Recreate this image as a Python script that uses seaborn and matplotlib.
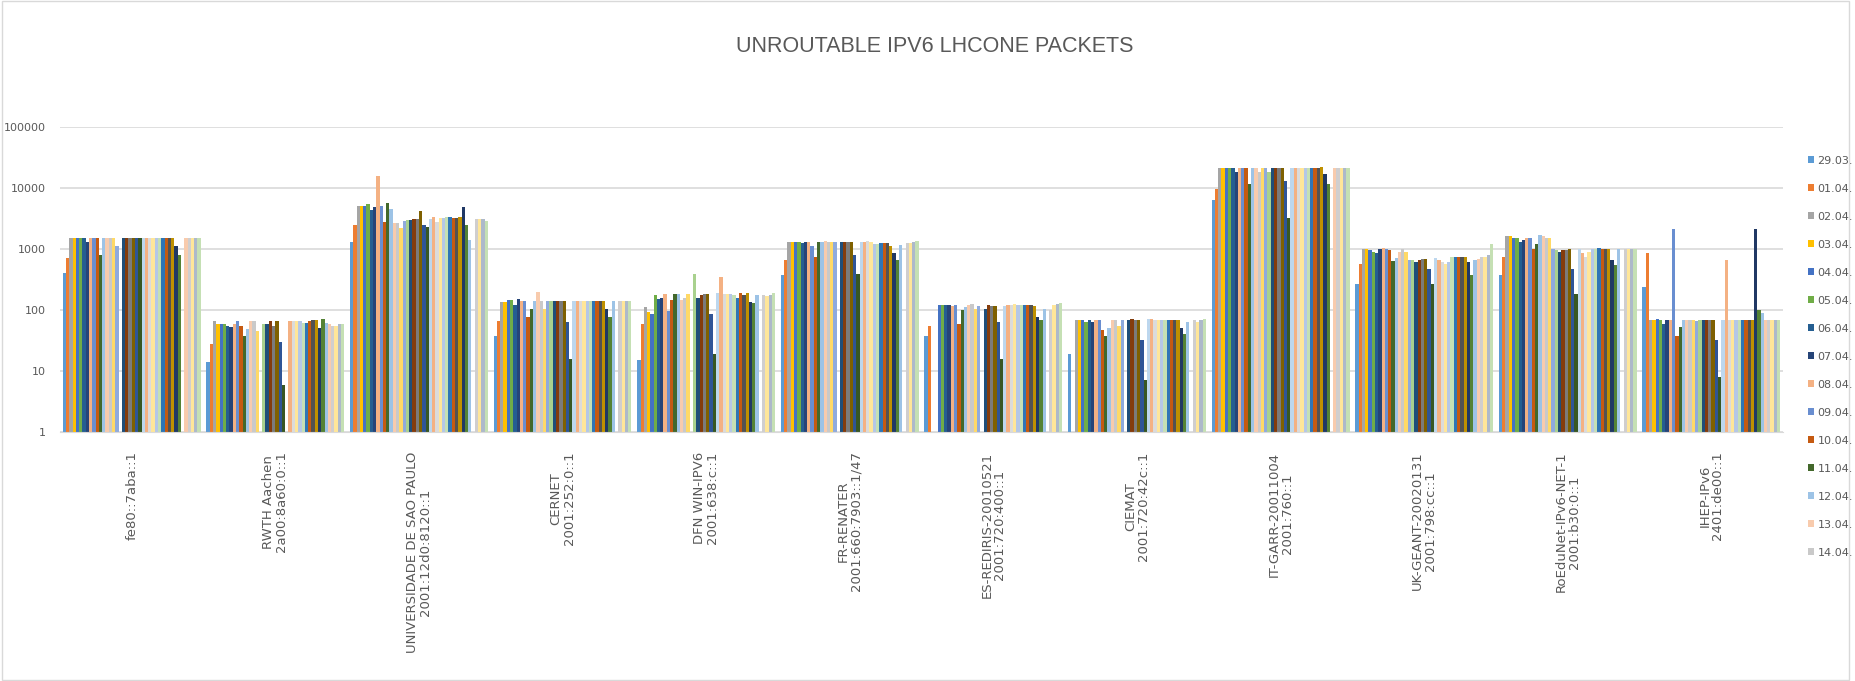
import numpy as np
import pandas as pd
import matplotlib
matplotlib.use("Agg")
import matplotlib.pyplot as plt
from matplotlib.patches import Patch, Rectangle
import seaborn as sns

nan = np.nan

sites = [
    "fe80::7aba::1",
    "RWTH Aachen\n2a00:8a60:0::1",
    "UNIVERSIDADE DE SAO PAULO\n2001:12d0:8120::1",
    "CERNET\n2001:252:0::1",
    "DFN WIN-IPV6\n2001:638:c::1",
    "FR-RENATER\n2001:660:7903::1/47",
    "ES-REDIRIS-20010521\n2001:720:400::1",
    "CIEMAT\n2001:720:42c::1",
    "IT-GARR-20011004\n2001:760::1",
    "UK-GEANT-20020131\n2001:798:cc::1",
    "RoEduNet-IPv6-NET-1\n2001:b30:0::1",
    "IHEP-IPv6\n2401:de00::1",
]

dates = [
    "29.03.", "01.04.", "02.04.", "03.04.", "04.04.", "05.04.", "06.04.",
    "07.04.", "08.04.", "09.04.", "10.04.", "11.04.", "12.04.", "13.04.",
    "14.04.", "15.04.", "16.04.", "17.04.", "18.04.", "19.04.", "20.04.",
    "21.04.", "22.04.", "23.04.", "24.04.", "25.04.", "26.04.", "27.04.",
    "28.04.", "29.04.", "30.04.", "01.05.", "02.05.", "03.05.", "04.05.",
    "05.05.", "06.05.", "07.05.", "08.05.", "09.05.", "10.05.", "11.05.",
]

# packets per site, one value per date
fe80 = [400, 700, 1500, 1500, 1500, 1500, 1500, 1300, 1500, 1500,
        1500, 800, 1500, 1500, 1500, 1500, 1100, nan, 1500, 1500,
        1500, 1500, 1500, 1500, 1500, 1500, 1500, 1500, 1500, 1500,
        1500, 1500, 1500, 1500, 1100, 800, nan, 1500, 1500, 1500,
        1500, 1500]
rwth = [14, 28, 65, 60, 60, 58, 55, 52, 60, 65,
        55, 38, 48, 65, 65, 45, nan, 60, 60, 65,
        55, 65, 30, 6, nan, 65, 65, 65, 65, 62,
        62, 65, 68, 68, 50, 70, 62, 60, 55, 55,
        58, 60]
usp = [1300, 2500, 5000, 5000, 5000, 5500, 4300, 4800, 16000, 5000,
       2800, 5700, 4600, 2700, 2700, 2200, 2900, 3000, 3000, 3100,
       3100, 4200, 2500, 2300, 3100, 3300, 2800, 3200, 3200, 3300,
       3300, 3200, 3200, 3300, 4800, 2500, 1400, nan, 3100, 3100,
       3100, 2900]
cernet = [37, 65, 135, 135, 145, 145, 120, 150, 140, 140,
          77, 105, 140, 200, 140, 105, 140, 140, 140, 140,
          140, 140, 63, 16, 140, 140, 140, 140, 140, 140,
          140, 140, 140, 140, 105, 77, 140, nan, 140, 140,
          140, 140]
dfn = [15, 60, 110, 93, 87, 175, 150, 160, 180, 98,
       145, 185, 185, 145, 160, 185, nan, 390, 160, 175,
       185, 185, 87, 19, 190, 350, 185, 185, 185, 175,
       160, 190, 175, 190, 135, 128, 175, nan, 175, 170,
       175, 190]
renater = [370, 650, 1300, 1300, 1300, 1300, 1270, 1300, 1300, 1100,
           750, 1300, 1300, 1350, 1300, 1300, 1300, nan, 1300, 1300,
           1300, 1300, 800, 390, 1300, 1300, 1350, 1300, 1200, 1200,
           1250, 1250, 1250, 1100, 850, 650, 1150, nan, 1250, 1250,
           1300, 1350]
rediris = [37, 55, nan, nan, 120, 120, 120, 120, 115, 120,
           60, 100, 110, 120, 125, 105, 115, nan, 105, 120,
           115, 115, 63, 16, 115, 120, 120, 125, 120, 120,
           120, 120, 120, 115, 77, 68, 105, nan, 100, 120,
           125, 130]
ciemat = [19, nan, 68, 68, 68, 63, 68, 63, 68, 68,
          47, 37, 50, 68, 68, 55, 68, nan, 68, 72,
          68, 68, 32, 7, 72, 70, 68, 68, 68, 68,
          68, 68, 68, 68, 50, 41, 63, nan, 68, 63,
          68, 72]
garr = [6300, 9800, 21000, 21000, 21000, 21000, 21000, 18000, 21000, 21000,
        21000, 11500, 21000, 21000, 18000, 21000, 21000, 18000, 21000, 21000,
        21000, 21000, 13000, 3200, 21000, 21000, 21000, 21000, 21000, 21000,
        21000, 21000, 21000, 22000, 17000, 11500, nan, 21000, 21000, 21000,
        21000, 21000]
geant = [270, 575, 1000, 1000, 950, 900, 850, 1000, 1050, 1000,
         950, 630, 720, 900, 1000, 900, 650, 650, 610, 650,
         680, 680, 470, 270, 700, 650, 610, 570, 610, 740,
         740, 740, 740, 740, 610, 380, 650, 680, 740, 740,
         800, 1200]
roedunet = [370, 740, 1630, 1630, 1500, 1500, 1300, 1400, 1500, 1500,
            1000, 1200, 1700, 1630, 1500, 1500, 1000, 950, 900, 950,
            950, 1000, 470, 185, 1000, 850, 750, 900, 1000, 1000,
            1050, 1000, 1000, 1000, 650, 540, 1000, nan, 1000, 1000,
            1000, 1000]
ihep = [240, 850, 68, 68, 72, 68, 60, 68, 68, 2100,
        38, 53, 68, 68, 68, 68, 65, 68, 68, 68,
        68, 68, 32, 8, 68, 650, 68, 68, 68, 68,
        68, 68, 68, 68, 2100, 100, 88, 68, 68, 68,
        68, 68]

colors = [
    '#5B9BD5', '#ED7D31', '#A5A5A5', '#FFC000', '#4472C4', '#70AD47',
    '#255E91', '#264478', '#F4B183', '#698ED0', '#C55A11', '#43682B',
    '#9DC3E6', '#F8CBAD', '#C9C9C9', '#FFD966', '#8FAADC', '#A9D18E',
    '#1F4E79', '#843C0C', '#7B7B7B', '#7F6000', '#2F5597', '#385723',
    '#BDD7EE', '#F4B183', '#DBDBDB', '#FFE699', '#B4C7E7', '#C5E0B4',
    '#2E75B6', '#C55A11', '#525252', '#BF9000', '#203864', '#548235',
    '#9DC3E6', '#F8CBAD', '#D0CECE', '#FFE699', '#ADB9CA', '#C5E0B4',
]

series = [fe80, rwth, usp, cernet, dfn, renater, rediris, ciemat,
          garr, geant, roedunet, ihep]

rows = []
for site, vals in zip(sites, series):
    for d, v in zip(dates, vals):
        rows.append((site, d, v))
df = pd.DataFrame(rows, columns=["site", "date", "packets"]).dropna()

sns.set_style("white")
plt.rcParams['font.family'] = ['DejaVu Sans']
grey = '#595959'

fig = plt.figure(figsize=(18.55, 6.81), dpi=100)
ax = fig.add_axes([0.0323, 0.3656, 0.929, 0.4479])

sns.barplot(data=df, x="site", y="packets", hue="date", order=sites,
            hue_order=dates, palette=colors, width=0.96, errorbar=None,
            saturation=1, linewidth=0, legend=False, ax=ax)

ax.set_yscale('log')
ax.set_ylim(1, 100000)
ax.set_xlim(-0.5, len(sites) - 0.5)
yt = [1, 10, 100, 1000, 10000, 100000]
ax.set_yticks(yt)
ax.set_yticklabels([str(t) for t in yt])
ax.yaxis.set_minor_locator(matplotlib.ticker.NullLocator())
ax.grid(axis='y', color='#D9D9D9', linewidth=1.2)
ax.set_axisbelow(True)
for s in ['top', 'right', 'left']:
    ax.spines[s].set_visible(False)
ax.spines['bottom'].set_color('#D9D9D9')
ax.tick_params(axis='y', length=0, pad=10, labelsize=8, labelcolor=grey)
ax.tick_params(axis='x', length=0, pad=14)
ax.set_xticks(range(len(sites)))
ax.set_xticklabels(sites, rotation=90, fontsize=9.5, color=grey,
                   linespacing=1.0)
ax.set_xlabel("")
ax.set_ylabel("")

fig.text(0.504, 0.931, "UNROUTABLE IPV6 LHCONE PACKETS", ha='center',
         va='center', fontsize=15.5, color=grey,
         family=['Liberation Sans', 'DejaVu Sans'])

handles = [Patch(facecolor=colors[i], edgecolor='none') for i in range(15)]
fig.legend(handles, dates[:15], loc='upper left',
           bbox_to_anchor=(0.972, 0.778), frameon=False, fontsize=8,
           labelcolor=grey, handlelength=0.6, handleheight=0.6,
           handletextpad=0.3, labelspacing=1.62, borderaxespad=0)

fig.patches.append(Rectangle((0.001, 0.002), 0.996, 0.996,
                             transform=fig.transFigure, fill=False,
                             edgecolor='#D9D9D9', linewidth=1))

fig.savefig("out.png", dpi=100, facecolor='white')
